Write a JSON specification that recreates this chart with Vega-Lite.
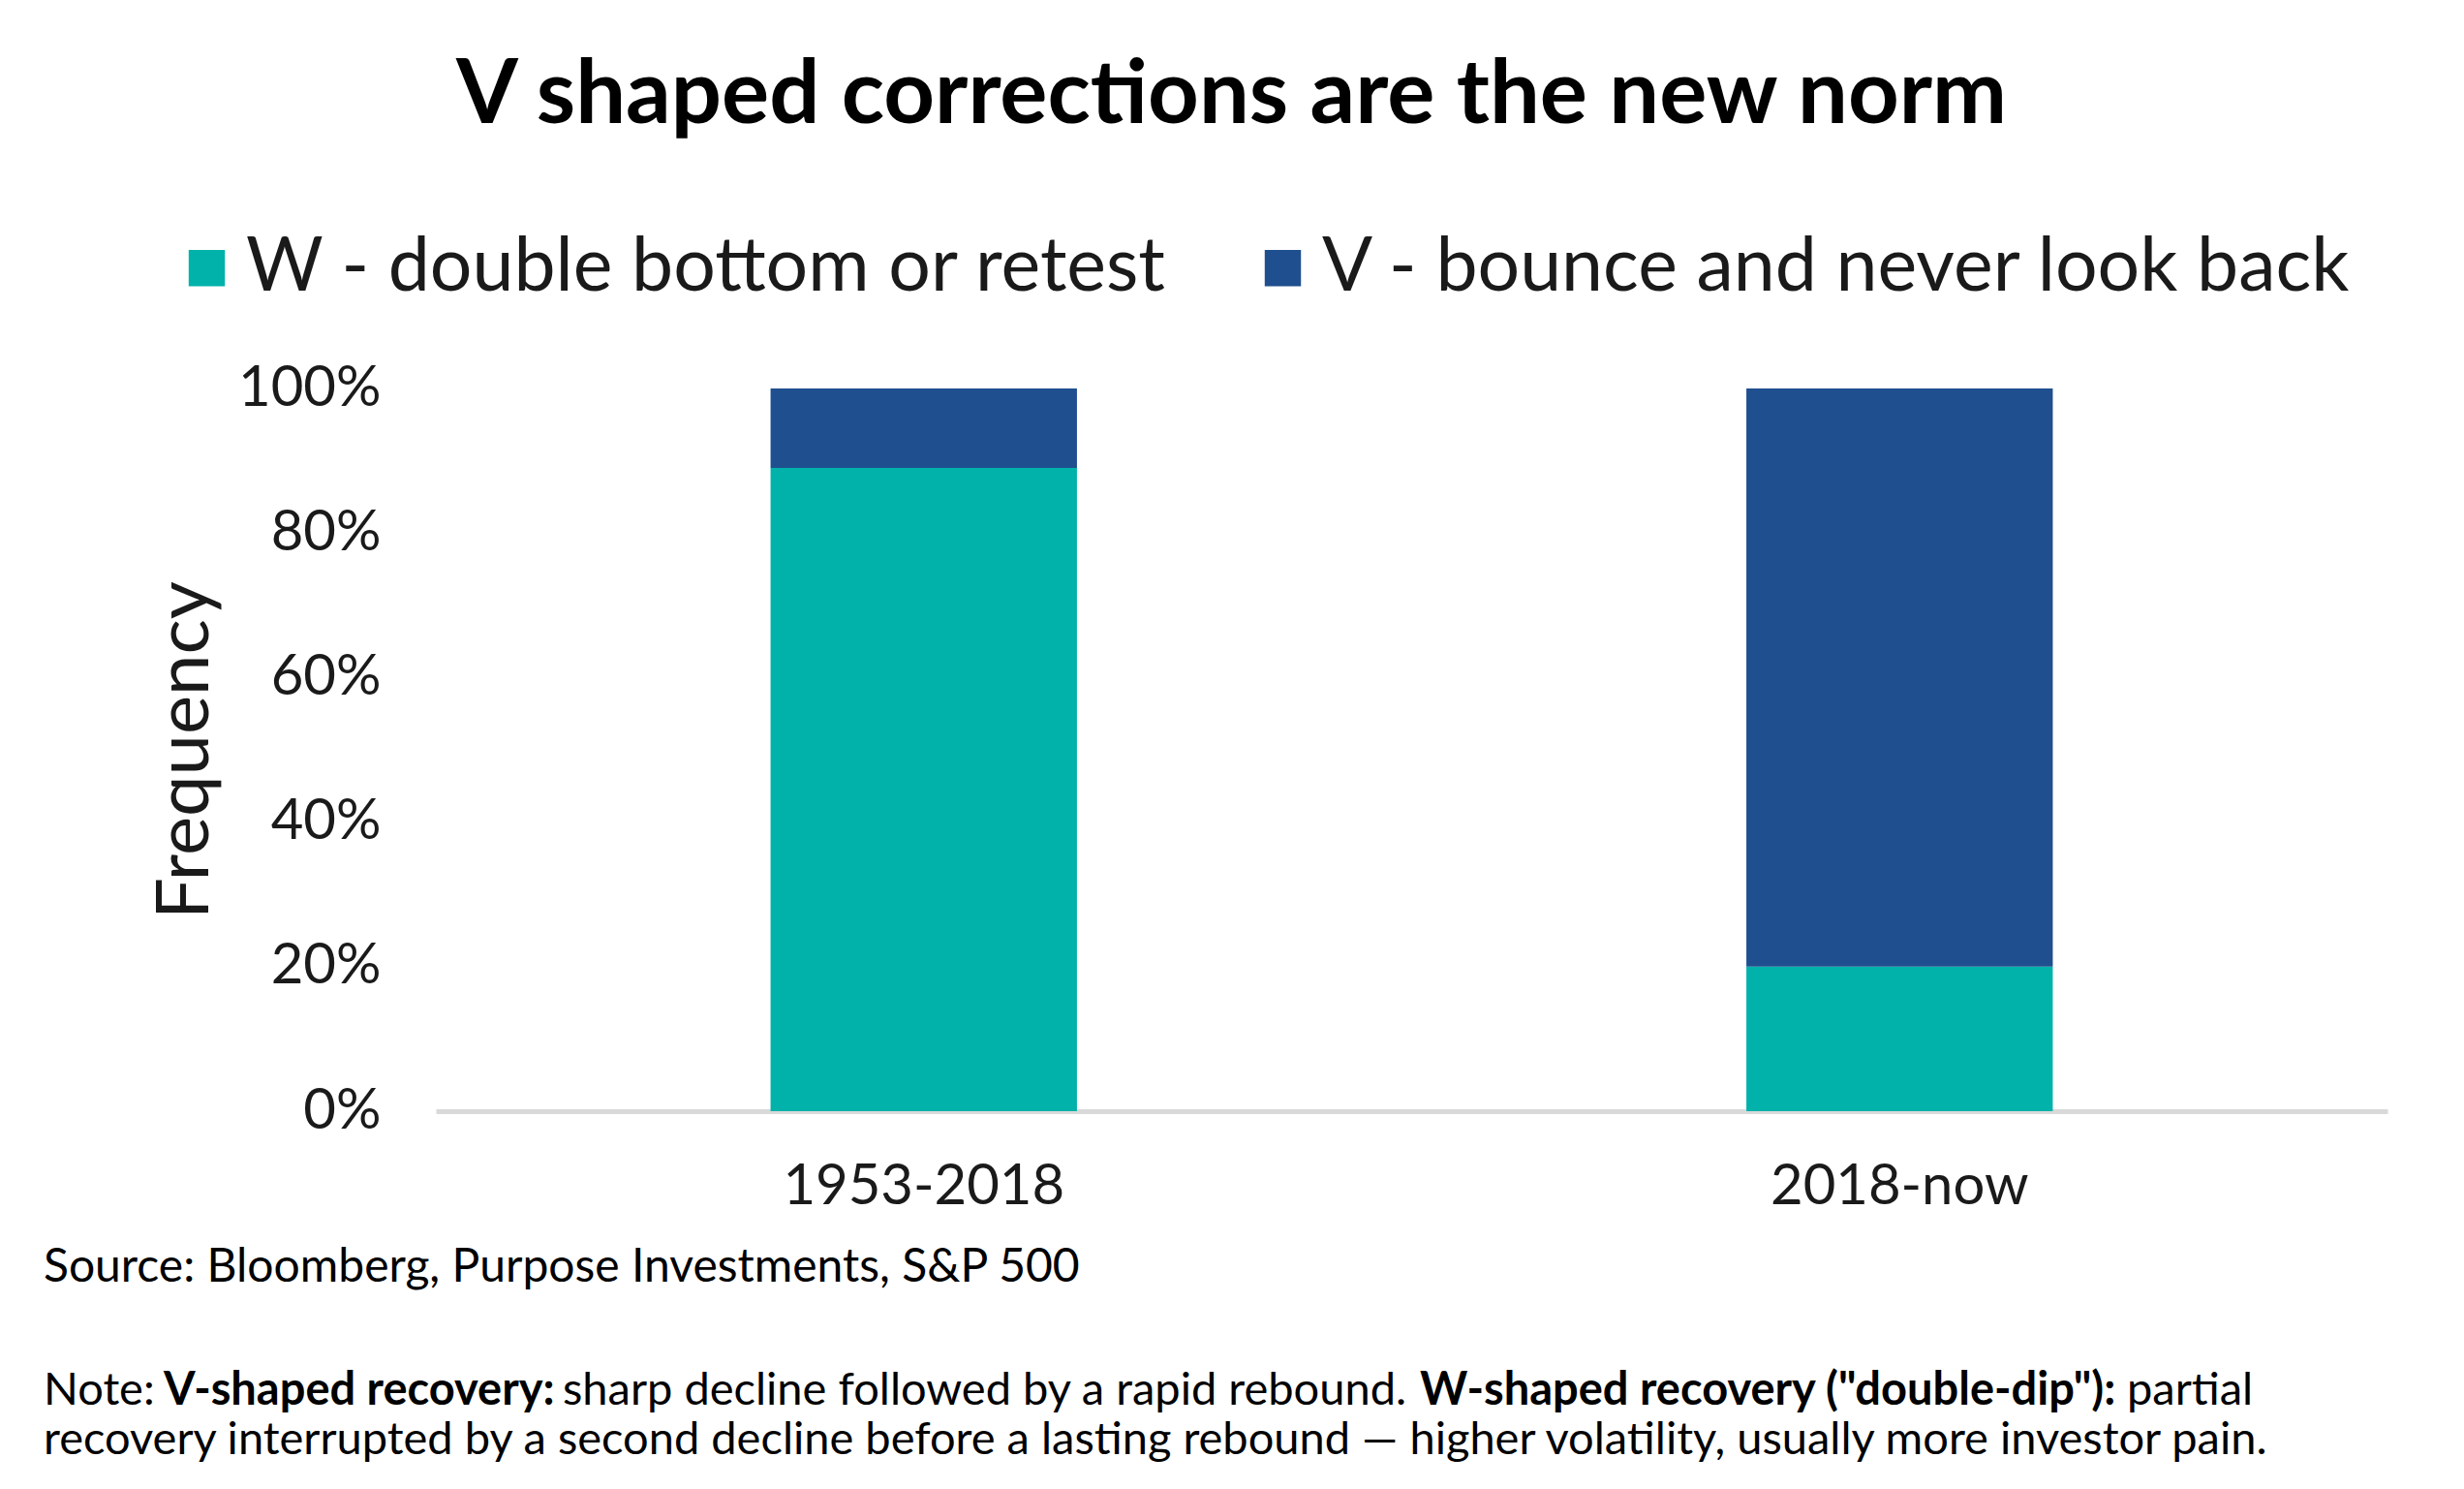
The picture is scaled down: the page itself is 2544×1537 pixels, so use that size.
{
  "$schema": "https://vega.github.io/schema/vega-lite/v6.json",
  "description": "Share of S&P 500 corrections that were W-shaped vs V-shaped.",
  "width": 2015,
  "height": 746,
  "autosize": {"type": "none"},
  "padding": {"left": 450, "top": 401, "right": 79, "bottom": 390},
  "background": "white",
  "title": {
    "text": "V shaped corrections are the new norm",
    "font": "Lato",
    "fontSize": 92,
    "fontWeight": "bold",
    "color": "black",
    "anchor": "middle",
    "frame": "group",
    "dx": -186,
    "offset": 92
  },
  "config": {
    "view": {"stroke": null},
    "font": "Lato"
  },
  "layer": [
    {
      "data": {
        "values": [
          {"period": "1953-2018", "series": "W - double bottom or retest", "share": 0.89},
          {"period": "1953-2018", "series": "V - bounce and never look back", "share": 0.11},
          {"period": "2018-now", "series": "W - double bottom or retest", "share": 0.2},
          {"period": "2018-now", "series": "V - bounce and never look back", "share": 0.8}
        ]
      },
      "mark": {"type": "bar"},
      "encoding": {
        "x": {
          "field": "period",
          "type": "nominal",
          "title": null,
          "scale": {"paddingInner": 0.686, "paddingOuter": 0.343},
          "axis": {
            "labelAngle": 0,
            "labelFontSize": 58,
            "labelColor": "#1a1a1a",
            "labelPadding": 49,
            "labelLimit": 1000,
            "ticks": false,
            "domainColor": "#d9d9d9",
            "domainWidth": 5
          }
        },
        "y": {
          "field": "share",
          "type": "quantitative",
          "stack": "zero",
          "title": "Frequency",
          "scale": {"domain": [0, 1], "nice": false},
          "axis": {
            "format": ".0%",
            "values": [0, 0.2, 0.4, 0.6, 0.8, 1],
            "grid": false,
            "domain": false,
            "ticks": false,
            "labelFontSize": 58,
            "labelColor": "#1a1a1a",
            "labelPadding": 57,
            "titleFontSize": 76,
            "titleFontWeight": "normal",
            "titleColor": "#1a1a1a",
            "titlePadding": 20
          }
        },
        "color": {
          "field": "series",
          "type": "nominal",
          "title": null,
          "scale": {
            "domain": ["W - double bottom or retest", "V - bounce and never look back"],
            "range": ["#00b2aa", "#1f4f8f"]
          },
          "legend": {
            "orient": "none",
            "direction": "horizontal",
            "legendX": -275,
            "legendY": -163,
            "symbolType": "square",
            "symbolSize": 1400,
            "symbolStrokeWidth": 0,
            "labelFontSize": 77,
            "labelColor": "#1a1a1a",
            "labelOffset": 2,
            "columnPadding": 80,
            "labelLimit": 2000
          }
        },
        "order": {"field": "series", "sort": "descending"}
      }
    },
    {
      "data": {"values": [{"t": "Source: Bloomberg, Purpose Investments, S&P 500"}]},
      "mark": {"type": "text", "align": "left", "baseline": "alphabetic", "x": -405, "y": 922, "fontSize": 48, "color": "black"},
      "encoding": {"text": {"field": "t"}}
    },
    {
      "data": {"values": [{"t": "Note:"}]},
      "mark": {"type": "text", "align": "left", "baseline": "alphabetic", "x": -405, "y": 1049, "fontSize": 47, "color": "black"},
      "encoding": {"text": {"field": "t"}}
    },
    {
      "data": {"values": [{"t": "V-shaped recovery:"}]},
      "mark": {"type": "text", "align": "left", "baseline": "alphabetic", "x": -281, "y": 1049, "fontSize": 47, "fontWeight": "bold", "color": "black"},
      "encoding": {"text": {"field": "t"}}
    },
    {
      "data": {"values": [{"t": "sharp decline followed by a rapid rebound."}]},
      "mark": {"type": "text", "align": "left", "baseline": "alphabetic", "x": 131, "y": 1049, "fontSize": 47, "color": "black"},
      "encoding": {"text": {"field": "t"}}
    },
    {
      "data": {"values": [{"t": "W-shaped recovery (\"double-dip\"):"}]},
      "mark": {"type": "text", "align": "left", "baseline": "alphabetic", "x": 1016, "y": 1049, "fontSize": 47, "fontWeight": "bold", "color": "black"},
      "encoding": {"text": {"field": "t"}}
    },
    {
      "data": {"values": [{"t": "partial"}]},
      "mark": {"type": "text", "align": "left", "baseline": "alphabetic", "x": 1746, "y": 1049, "fontSize": 47, "color": "black"},
      "encoding": {"text": {"field": "t"}}
    },
    {
      "data": {"values": [{"t": "recovery interrupted by a second decline before a lasting rebound — higher volatility, usually more investor pain."}]},
      "mark": {"type": "text", "align": "left", "baseline": "alphabetic", "x": -405, "y": 1100, "fontSize": 47, "color": "black"},
      "encoding": {"text": {"field": "t"}}
    }
  ]
}
